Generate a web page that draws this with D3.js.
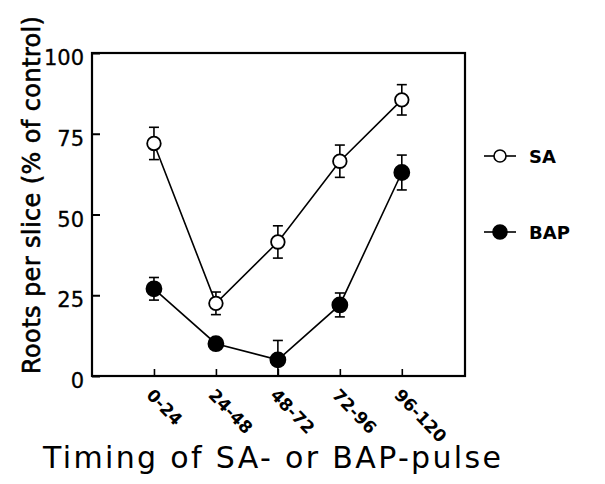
<!DOCTYPE html>
<html><head><meta charset="utf-8">
<script src="https://cdn.jsdelivr.net/npm/d3@7"></script>
<style>body{margin:0;background:#fff}svg{display:block}text{font-family:"DejaVu Sans",sans-serif;fill:#000}</style>
</head><body>
<svg id="c" width="605" height="484"></svg>
<script>
const categories = ["0-24","24-48","48-72","72-96","96-120"];
const saValues = [72, 22.5, 41.5, 66.5, 85.5];
const saErrors = [5, 3.5, 5, 5, 4.7];
const bapValues = [27, 10, 5, 22, 63];
const bapErrors = [3.5, 1, 6, 3.7, 5.4];
const yTicks = [0, 25, 50, 75, 100];

const svg = d3.select("#c");
const L = 92, R = 465, T = 53, B = 376;
const x = d3.scaleLinear().domain([-1, 5.02]).range([L, R]);
const y = d3.scaleLinear().domain([0, 100]).range([B, T]);

// frame
svg.append("rect").attr("x", L).attr("y", T).attr("width", R - L).attr("height", B - T)
  .attr("fill", "none").attr("stroke", "#000").attr("stroke-width", 2.2);

// y axis
const yAxis = svg.append("g").attr("transform", `translate(${L},0)`)
  .call(d3.axisLeft(y).tickValues(yTicks).tickSize(-8).tickPadding(8));
yAxis.select(".domain").remove();
yAxis.selectAll("line").attr("stroke-width", 2);
yAxis.selectAll("text").attr("font-size", 21).attr("font-family", '"DejaVu Sans",sans-serif')
  .attr("fill", "#000").attr("dy", "0.55em").attr("stroke", "#000").attr("stroke-width", 0.3);

// x axis
const xAxis = svg.append("g").attr("transform", `translate(0,${B})`)
  .call(d3.axisBottom(x).tickValues(d3.range(categories.length)).tickFormat(i => categories[i]).tickSize(-7).tickPadding(0));
xAxis.select(".domain").remove();
xAxis.selectAll("line").attr("stroke-width", 1.6);
xAxis.selectAll("text")
  .attr("font-size", 17).attr("font-weight", "bold").attr("font-family", '"Liberation Sans",Arial,sans-serif').attr("fill", "#000")
  .attr("text-anchor", "start").attr("dy", null).attr("y", 0)
  .attr("transform", "translate(-9,20) rotate(46)");

function drawSeries(vals, errs, filled) {
  const g = svg.append("g");
  const line = d3.line().x((d, i) => x(i)).y(d => y(d));
  g.append("path").datum(vals).attr("d", line).attr("fill", "none").attr("stroke", "#000").attr("stroke-width", 1.6);
  vals.forEach((v, i) => {
    const cx = x(i), top = y(v + errs[i]), bot = y(Math.max(0, v - errs[i]));
    g.append("line").attr("x1", cx).attr("x2", cx).attr("y1", top).attr("y2", bot).attr("stroke", "#000").attr("stroke-width", 1.6);
    g.append("line").attr("x1", cx - 5).attr("x2", cx + 5).attr("y1", top).attr("y2", top).attr("stroke", "#000").attr("stroke-width", 1.6);
    if (v - errs[i] > 0) g.append("line").attr("x1", cx - 5).attr("x2", cx + 5).attr("y1", bot).attr("y2", bot).attr("stroke", "#000").attr("stroke-width", 1.6);
    g.append("circle").attr("cx", cx).attr("cy", y(v)).attr("r", filled ? 7.5 : 6.8)
      .attr("fill", filled ? "#000" : "#fff").attr("stroke", "#000").attr("stroke-width", 1.8);
  });
}
drawSeries(saValues, saErrors, false);
drawSeries(bapValues, bapErrors, true);

// legend
const legend = [{name: "SA", filled: false, y: 156}, {name: "BAP", filled: true, y: 232}];
legend.forEach(d => {
  const g = svg.append("g");
  g.append("line").attr("x1", 484).attr("x2", 516).attr("y1", d.y).attr("y2", d.y).attr("stroke", "#000").attr("stroke-width", 1.6);
  g.append("circle").attr("cx", 500).attr("cy", d.y).attr("r", d.filled ? 7 : 6).attr("fill", d.filled ? "#000" : "#fff").attr("stroke", "#000").attr("stroke-width", 1.6);
  g.append("text").attr("x", 529).attr("y", d.y + 7).attr("font-size", 18).attr("font-weight", "bold").text(d.name);
});

// titles
svg.append("text").attr("x", 272).attr("y", 468).attr("text-anchor", "middle").attr("font-size", 30)
  .attr("textLength", 458).attr("lengthAdjust", "spacing").text("Timing of SA- or BAP-pulse");
svg.append("text").attr("transform", "translate(40,195) rotate(-90)").attr("text-anchor", "middle").attr("font-size", 24)
  .attr("font-family", '"Liberation Sans",Arial,sans-serif')
  .attr("stroke", "#000").attr("stroke-width", 0.6)
  .attr("textLength", 358).attr("lengthAdjust", "spacing").text("Roots per slice (% of control)");
</script>
</body></html>
